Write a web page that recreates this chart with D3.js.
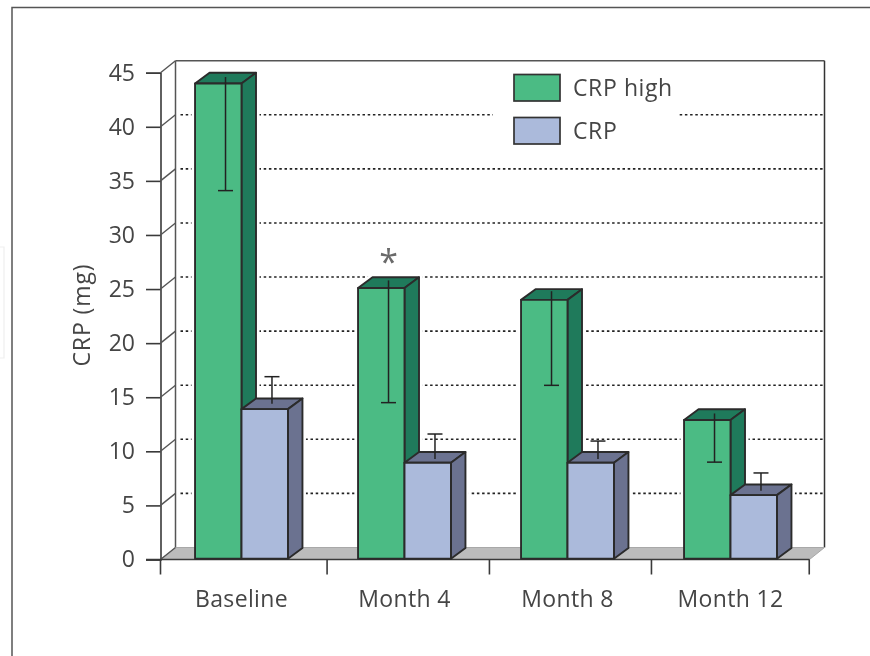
<!DOCTYPE html>
<html><head><meta charset="utf-8">
<script src="https://cdn.jsdelivr.net/npm/d3@7/dist/d3.min.js"></script>
<style>html,body{margin:0;padding:0;background:#fff;overflow:hidden}svg{display:block;filter:blur(0.4px)}text{font-family:"Open Sans",sans-serif;fill:#454545}</style>
</head><body><svg id="c" width="870" height="656"></svg>
<script>
const categories=["Baseline","Month 4","Month 8","Month 12"];
const seriesNames=["CRP high","CRP"];
const crpHigh=[44.0,25.1,24.0,12.9];
const crp=[13.9,8.95,8.95,5.95];
const crpHighUpper=[44.6,25.8,24.8,13.5];
const crpHighLower=[34.1,14.5,16.1,9.0];
const crpUpper=[16.9,11.6,10.95,8.0];
const crpLower=[14.4,9.3,9.3,6.35];
const yTicks=[0,5,10,15,20,25,30,35,40,45];
const xEdges=[0,1.022,2.018,3.012,3.98];

const W={x0:160.5,x1:809.5,y0:559.5,y45:72.7,dx:15,dy:-12,bdx:14.5,bdy:-10.7};
const svg=d3.select("#c");
const y=d3.scaleLinear().domain([0,45]).range([W.y0,W.y45]);
const x=d3.scaleBand().domain(categories).range([160,812]).paddingInner(0.43).paddingOuter(0.215);
const inner=d3.scaleBand().domain(seriesNames).range([0,x.bandwidth()]);
const edge=d3.scaleLinear().domain([0,4]).range([W.x0,W.x0+652]);
const ink="#3a3a3a";
const line=(a,b,c,d,col=ink,w=1.5)=>svg.append("line").attr("x1",a).attr("y1",b).attr("x2",c).attr("y2",d).attr("stroke",col).attr("stroke-width",w);

// outer frame
svg.append("rect").attr("x",12).attr("y",7.5).attr("width",900).attr("height",700).attr("fill","#fff").attr("stroke","#555").attr("stroke-width",1.5);
svg.append("path").attr("d","M0,247H4V358H0").attr("fill","none").attr("stroke","#efefef").attr("stroke-width",1.2);

// grid lines on back wall
svg.append("g").selectAll("line").data(yTicks.filter(d=>d>0&&d<45)).join("line")
 .attr("x1",W.x0+20).attr("x2",W.x1+W.dx-1)
 .attr("y1",d=>y(d)+W.dy).attr("y2",d=>y(d)+W.dy)
 .attr("stroke","#222").attr("stroke-width",1.6).attr("stroke-dasharray","2.5 2.7");

// legend knock-out
svg.append("rect").attr("x",493).attr("y",64).attr("width",185).attr("height",84).attr("fill","#fff");

// back walls
line(W.x0+W.dx,y(45)+W.dy,W.x1+W.dx,y(45)+W.dy,"#555");
line(W.x0+W.dx,y(45)+W.dy,W.x0+W.dx,y(0)+W.dy,"#555");
line(W.x1+W.dx,y(45)+W.dy,W.x1+W.dx,y(0)+W.dy,"#333");

// marks data
const groups=[{name:seriesNames[0],vals:crpHigh,front:"#4bbb84",dark:"#1f7a5b",up:crpHighUpper,lo:crpHighLower},
              {name:seriesNames[1],vals:crp,front:"#abbadb",dark:"#6b7290",up:crpUpper,lo:crpLower}];
const bars=[];
categories.forEach((c,i)=>groups.forEach(g=>bars.push({c,g,v:g.vals[i],up:g.up[i],lo:g.lo[i],
  x:x(c)+inner(g.name),w:inner.bandwidth(),top:y(g.vals[i])})));
const base=y(0)-0.8;

// white halo that interrupts the grid around every bar
svg.append("g").selectAll("path").data(bars).join("path")
 .attr("d",b=>`M${b.x},${base}V${b.top}l${W.bdx},${W.bdy}H${b.x+b.w+W.bdx}V${base+W.bdy}L${b.x+b.w},${base}Z`)
 .attr("fill","#fff").attr("stroke","#fff").attr("stroke-width",7);

// floor
svg.append("path").attr("d",`M${W.x0},${W.y0}L${W.x0+W.dx},${W.y0+W.dy}H${W.x1+W.dx}L${W.x1},${W.y0}Z`)
 .attr("fill","#bcbcbc").attr("stroke","#a8a8a8").attr("stroke-width",1);

// axes
const yAxis=svg.append("g").attr("transform",`translate(${W.x0},0)`).call(d3.axisLeft(y).tickValues(yTicks).tickSize(14.5).tickPadding(11));
yAxis.select(".domain").attr("stroke",ink).attr("stroke-width",1.6);
yAxis.selectAll(".tick line").attr("stroke",ink).attr("stroke-width",1.6);
yAxis.selectAll("text").attr("font-size",23).attr("font-family",'"Open Sans",sans-serif').attr("fill","#454545");
svg.append("g").selectAll("line").data(yTicks).join("line")
 .attr("x1",W.x0).attr("y1",d=>y(d)).attr("x2",W.x0+W.dx).attr("y2",d=>y(d)+W.dy)
 .attr("stroke","#555").attr("stroke-width",1.4);
line(146,W.y0,W.x1,W.y0,ink,1.6);
svg.append("g").selectAll("line").data(xEdges).join("line")
 .attr("x1",d=>edge(d)).attr("x2",d=>edge(d)).attr("y1",W.y0).attr("y2",W.y0+15)
 .attr("stroke",ink).attr("stroke-width",1.6);
svg.append("g").selectAll("text").data(categories).join("text")
 .attr("x",d=>x(d)+x.bandwidth()/2).attr("y",606.5).attr("text-anchor","middle")
 .attr("font-size",23).attr("letter-spacing",0.35).text(d=>d);
svg.append("text").attr("transform","translate(90,315) rotate(-90)").attr("text-anchor","middle").attr("font-size",23).attr("letter-spacing",0.9).text("CRP (mg)");

// bars
const bg=svg.append("g").selectAll("g").data(bars).join("g")
 .attr("stroke","#2b2b2b").attr("stroke-width",1.9).attr("stroke-linejoin","round");
bg.append("path").attr("fill",b=>b.g.dark)
 .attr("d",b=>`M${b.x},${b.top}l${W.bdx},${W.bdy}H${b.x+b.w+W.bdx}L${b.x+b.w},${b.top}Z`);
bg.append("path").attr("fill",b=>b.g.dark)
 .attr("d",b=>`M${b.x+b.w},${b.top}L${b.x+b.w+W.bdx},${b.top+W.bdy}V${base+W.bdy}L${b.x+b.w},${base}Z`);
bg.append("rect").attr("fill",b=>b.g.front)
 .attr("x",b=>b.x).attr("y",b=>b.top).attr("width",b=>b.w).attr("height",b=>base-b.top);

// error bars
const eb=svg.append("g").selectAll("g").data(bars).join("g").attr("stroke","#222").attr("stroke-width",1.5);
const ex=b=>b.x+b.w/2+W.bdx/2;
eb.append("line").attr("x1",ex).attr("x2",ex).attr("y1",b=>y(b.up)).attr("y2",b=>y(b.lo));
eb.append("line").attr("x1",b=>ex(b)-7.5).attr("x2",b=>ex(b)+7.5)
 .attr("y1",b=>y(b.g===groups[0]?b.lo:b.up)).attr("y2",b=>y(b.g===groups[0]?b.lo:b.up));

// asterisk over Month 4
svg.append("text").attr("x",x("Month 4")+inner.bandwidth()/2+W.bdx/2).attr("y",y(crpHighUpper[1])-6)
 .attr("text-anchor","middle").attr("font-size",34).style("fill","#6a6a6a").text("*");

// legend
const lg=svg.append("g").selectAll("g").data(groups).join("g");
lg.append("rect").attr("x",514).attr("y",(d,i)=>74.5+i*43).attr("width",46).attr("height",26.5)
 .attr("fill",d=>d.front).attr("stroke","#333").attr("stroke-width",1.7);
lg.append("text").attr("x",573).attr("y",(d,i)=>95.5+i*43).attr("font-size",23).attr("letter-spacing",0.6).text(d=>d.name);
</script></body></html>
